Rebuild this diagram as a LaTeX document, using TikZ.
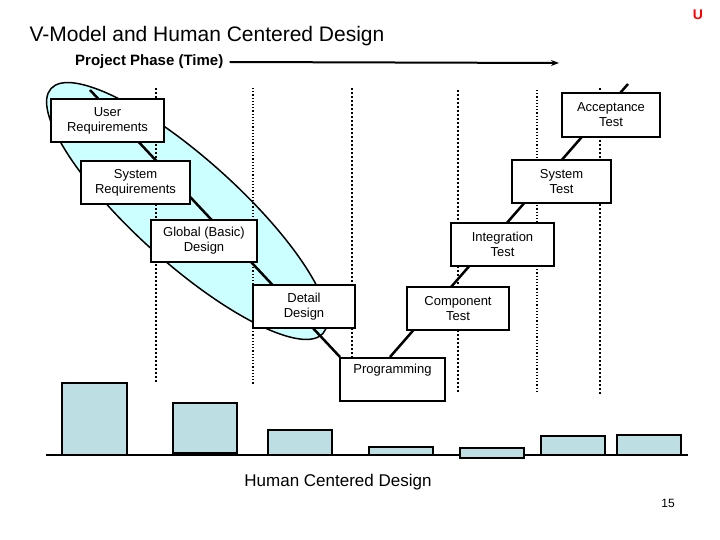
\documentclass[tikz,border=0pt]{standalone}
\usepackage{fontspec}
\setmainfont{Liberation Sans}
\usetikzlibrary{arrows.meta}
\definecolor{ellc}{RGB}{204,255,255}
\definecolor{barc}{RGB}{189,223,227}
\begin{document}
\begin{tikzpicture}[x=1pt,y=-1pt,
  vbox/.style={draw=black,line width=1.5pt,fill=white,font=\fontsize{13}{15}\selectfont,align=center,inner sep=0pt},
  bar/.style={draw=black,line width=1.5pt,fill=barc},
  dotv/.style={dotted,line width=2pt},
  dotvt/.style={dotted,line width=1.2pt},
  vline/.style={line width=2.5pt}]
\useasboundingbox (0,0) rectangle (720,540);
\node[anchor=west,font=\fontsize{21}{23}\selectfont] (title) at (26,36) {V-Model and Human Centered Design};
\node[text=red,font=\bfseries\fontsize{14}{16}\selectfont] (u) at (698,15) {U};
\node[anchor=west,font=\bfseries\fontsize{15}{17}\selectfont,inner sep=0pt] (phase) at (75,62) {Project Phase (Time)};
\coordinate (arrEnd) at (559,63);
\draw[line width=2pt,-{Stealth[length=8pt,width=6pt]}] (phase.east) ++(6,0) -- (arrEnd);
% ellipse
\fill[ellc,draw=black,line width=1.5pt,rotate around={-42:(187,211)}] (187,211) ellipse (183 and 52);
% dotted lines
\draw[dotv] (156,88) -- (156,382);
\draw[dotvt] (253,88) -- (253,385);
\draw[dotv] (352,88) -- (352,390);
\draw[dotv] (458,90) -- (458,392);
\draw[dotvt] (537,90) -- (537,392);
\draw[dotv] (600,88) -- (600,395);
% V lines
\coordinate (vtl) at (90,90);
\coordinate (vtr) at (628,84);
\coordinate (pl) at (340,357);
\coordinate (pr) at (390,357);
\draw[vline] (vtl) -- (pl);
\draw[vline] (pr) -- (vtr);
% boxes
\node[vbox,minimum width=113pt,minimum height=43pt] (ur) at (107.5,120.5) {User\\Requirements};
\node[vbox,minimum width=109pt,minimum height=43pt] (sr) at (135.5,182.5) {System\\Requirements};
\node[vbox,minimum width=106pt,minimum height=42pt] (gd) at (204,241) {Global (Basic)\\Design};
\node[vbox,minimum width=102pt,minimum height=43pt] (dd) at (304,306.5) {Detail\\Design};
\node[vbox,minimum width=105pt,minimum height=43pt,anchor=north] (pg) at (392.5,357) {};
\node[font=\fontsize{13}{15}\selectfont] (pgt) at (392.5,370) {Programming};
\node[vbox,minimum width=102pt,minimum height=43pt] (ct) at (458,308.5) {Component\\Test};
\node[vbox,minimum width=103pt,minimum height=43pt] (it) at (502.5,244.5) {Integration\\Test};
\node[vbox,minimum width=99pt,minimum height=43pt] (st) at (561.5,181.5) {System\\Test};
\node[vbox,minimum width=98pt,minimum height=44pt] (at) at (611,115) {Acceptance\\Test};
% bars
\coordinate (b0) at (46,455);
\coordinate (b1) at (688,455);
\draw[line width=1.5pt] (b0) -- (b1);
\draw[bar] (62,455) rectangle (127,383);
\draw[bar] (173,453) rectangle (237,403);
\draw[bar] (268,455) rectangle (332,430);
\draw[bar] (369,455) rectangle (433,447);
\draw[bar] (460,458) rectangle (524,448);
\draw[bar] (541,455) rectangle (605,436);
\draw[bar] (617,455) rectangle (681,435);
\node[font=\fontsize{17}{19}\selectfont] (hcd) at (338,482) {Human Centered Design};
\node[font=\fontsize{12}{14}\selectfont] (pn) at (668,503) {15};
\end{tikzpicture}
\end{document}
